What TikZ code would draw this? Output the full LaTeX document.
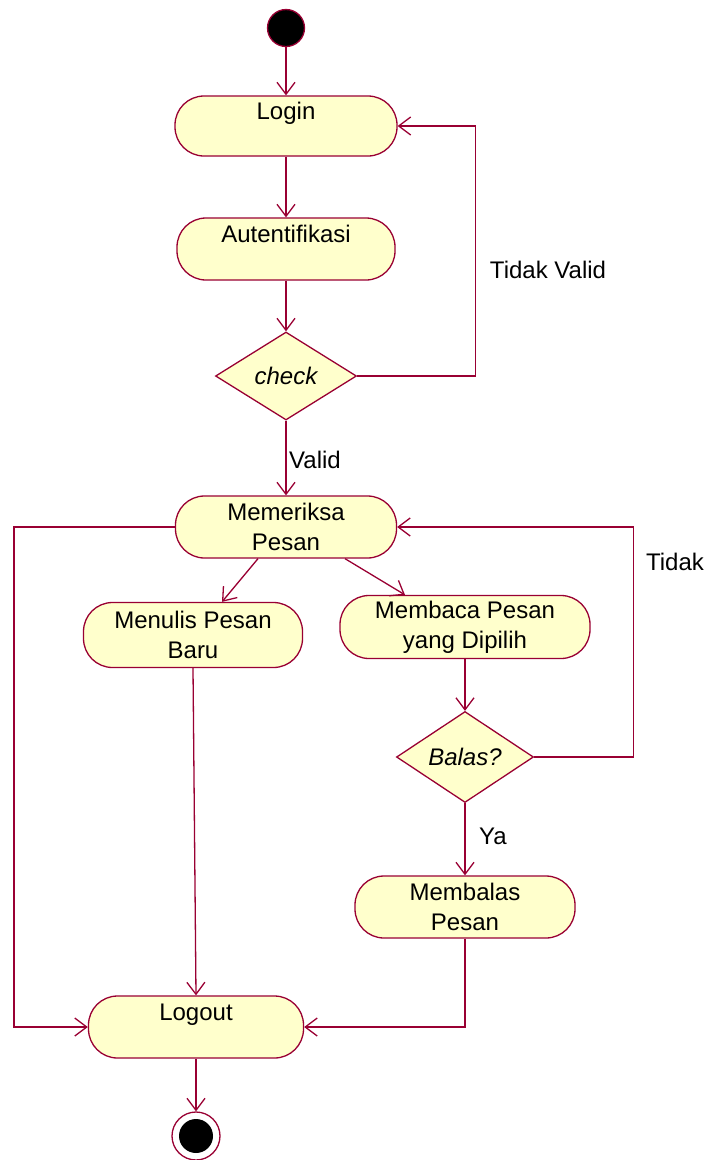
\documentclass[tikz,border=0pt]{standalone}
\usepackage{fontspec}
\setmainfont{Liberation Sans}
\usetikzlibrary{arrows.meta,shapes.geometric,calc}
\definecolor{umlline}{RGB}{153,0,51}
\definecolor{umlfill}{RGB}{255,255,204}
\begin{document}
\begin{tikzpicture}[x=1pt,y=-1pt,
  font=\fontsize{24}{30}\selectfont,
  activity/.style={draw=umlline, fill=umlfill, line width=1.3pt, rounded corners=29pt,
    minimum height=62pt, align=center, inner sep=0pt},
  decision/.style={draw=umlline, fill=umlfill, line width=1.3pt, diamond, inner sep=0pt,
    font=\fontsize{24}{30}\selectfont\itshape},
  flow/.style={draw=umlline, line width=1.3pt,
    -{Straight Barb[length=12pt,width=18pt,line width=1.3pt]}},
  guard/.style={text=black, inner sep=0pt}
]
\useasboundingbox (0,0) rectangle (711,1160);

% start and end states
\node[circle, draw=umlline, line width=1.3pt, fill=black, minimum size=37pt, inner sep=0pt] (start) at (286,28) {};
\node[circle, draw=umlline, line width=1.3pt, fill=white, minimum size=48pt, inner sep=0pt] (end) at (196,1136) {};
\node[circle, fill=black, minimum size=34pt, inner sep=0pt] (endin) at (end) {};

% activities
\node[activity, minimum width=222pt, minimum height=60pt] (login) at (286,126) {Login\\\mbox{}};
\node[activity, minimum width=218pt] (auth) at (286,249) {Autentifikasi\\\mbox{}};
\node[decision, minimum width=141pt, minimum height=88pt] (check) at (286,376) {check};
\node[activity, minimum width=221pt] (mem) at (286,527) {Memeriksa\\Pesan};
\node[activity, minimum width=219pt, minimum height=65pt] (menulis) at (193,635) {Menulis Pesan\\Baru};
\node[activity, minimum width=250pt, minimum height=63pt] (membaca) at (465,627) {Membaca Pesan\\yang Dipilih};
\node[decision, minimum width=137pt, minimum height=81pt] (balas) at (465,757) {Balas?};
\node[activity, minimum width=220pt] (membalas) at (465,907) {Membalas\\Pesan};
\node[activity, minimum width=215pt] (logout) at (196,1027) {Logout\\\mbox{}};

% guard labels
\node[guard] (lblTV) at (548,270) {Tidak Valid};
\node[guard] (lblV) at (315,460) {Valid};
\node[guard] (lblT) at (675,562) {Tidak};
\node[guard] (lblY) at (493,836) {Ya};

% transitions
\draw[flow] (start) -- (login.north);
\draw[flow] (login.south) -- (auth.north);
\draw[flow] (auth.south) -- (check.north);
\draw[flow] (check.east) -- ++(118,0) |- (login.east);
\draw[flow] (check.south) -- (mem.north);
\draw[flow] (mem.west) -- ++(-161,0) |- (logout.west);
\draw[flow] ($(mem.south)+(-28,0)$) -- ($(menulis.north)+(29,0)$);
\draw[flow] ($(mem.south)+(59,0)$) -- ($(membaca.north)+(-60,0)$);
\draw[flow] (membaca.south) -- (balas.north);
\draw[flow] (balas.east) -- ++(99,0) |- (mem.east);
\draw[flow] (balas.south) -- (membalas.north);
\draw[flow] (membalas.south) |- (logout.east);
\draw[flow] (menulis.south) -- (logout.north);
\draw[flow] (logout.south) -- (end.north);
\end{tikzpicture}
\end{document}
